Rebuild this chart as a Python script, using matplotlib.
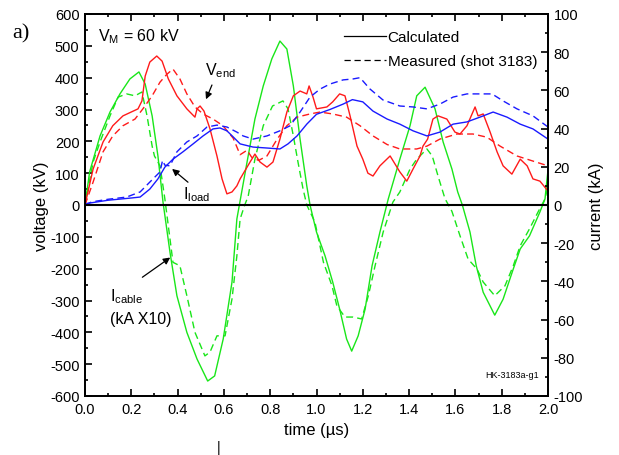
import matplotlib
matplotlib.use("Agg")
import matplotlib.pyplot as plt
from matplotlib.lines import Line2D
import numpy as np

plt.rcParams['font.family'] = ['Liberation Sans', 'DejaVu Sans']
plt.rcParams['axes.unicode_minus'] = False

# ---------------- data (voltage-scale units; currents shown x6 / x10) ----------------
t_cable_calc = [0, 0.02, 0.065, 0.108, 0.151, 0.194, 0.233, 0.26, 0.29, 0.315, 0.337, 0.367, 0.397,
                0.44, 0.484, 0.53, 0.56, 0.597, 0.635, 0.656, 0.70, 0.734, 0.77, 0.807, 0.842, 0.872,
                0.90, 0.929, 0.958, 0.972, 1.0, 1.037, 1.07, 1.10, 1.13, 1.152, 1.18, 1.21, 1.24,
                1.274, 1.31, 1.36, 1.404, 1.433, 1.469, 1.512, 1.547, 1.585, 1.61, 1.63, 1.663,
                1.69, 1.72, 1.77, 1.806, 1.85, 1.88, 1.92, 1.965, 1.987, 2.0]
v_cable_calc = [0, 104, 217, 292, 349, 396, 418, 380, 280, 154, 9, -148, -285,
                -400, -484, -553, -537, -421, -242, -44, 135, 270, 374, 459, 515, 490,
                374, 207, 60, 0, -85, -160, -242, -327, -421, -459, -411, -327, -191,
                -85, 19, 144, 249, 343, 370, 302, 198, 113, 41, 0, -85,
                -191, -274, -346, -296, -201, -138, -97, -22, 19, 110]

t_cable_meas = [0, 0.035, 0.065, 0.108, 0.143, 0.18, 0.216, 0.246, 0.268, 0.29, 0.30, 0.324, 0.345,
                0.38, 0.41, 0.44, 0.475, 0.518, 0.54, 0.57, 0.605, 0.635, 0.656, 0.67, 0.69, 0.705,
                0.734, 0.77, 0.81, 0.855, 0.877, 0.90, 0.92, 0.942, 0.958, 0.993, 1.03, 1.067, 1.088,
                1.123, 1.158, 1.195, 1.224, 1.253, 1.288, 1.33, 1.36, 1.404, 1.433, 1.477, 1.50,
                1.525, 1.555, 1.585, 1.62, 1.655, 1.693, 1.72, 1.77, 1.814, 1.85, 1.88, 1.92,
                1.957, 1.987, 2.0]
v_cable_meas = [0, 135, 198, 280, 339, 349, 343, 355, 280, 185, 154, 123, 19,
                -180, -191, -285, -400, -474, -462, -411, -411, -295, -160, -44, 0, 28,
                144, 249, 311, 327, 302, 217, 135, 50, 0, -53, -180, -254, -317,
                -352, -352, -358, -285, -191, -85, 9, 41, 113, 144, 176, 154,
                91, 20, -20, -97, -170, -201, -242, -285, -254, -191, -128, -75,
                -22, 19, 60]

t_vend_calc = [0, 0.035, 0.078, 0.12, 0.164, 0.229, 0.246, 0.26, 0.28, 0.31, 0.333, 0.36, 0.397,
               0.44, 0.475, 0.484, 0.497, 0.514, 0.54, 0.57, 0.592, 0.613, 0.635, 0.656, 0.67,
               0.713, 0.734, 0.756, 0.786, 0.812, 0.842, 0.872, 0.90, 0.929, 0.958, 0.968, 0.985,
               1.0, 1.045, 1.07, 1.10, 1.123, 1.145, 1.175, 1.20, 1.222, 1.244, 1.274, 1.318,
               1.36, 1.39, 1.417, 1.447, 1.46, 1.48, 1.503, 1.525, 1.563, 1.598, 1.62, 1.65,
               1.685, 1.698, 1.72, 1.75, 1.78, 1.806, 1.844, 1.88, 1.91, 1.935, 1.965, 2.0]
v_vend_calc = [0, 113, 198, 249, 280, 302, 327, 405, 449, 468, 452, 396, 343,
               302, 276, 302, 311, 295, 239, 154, 82, 35, 41, 60, 82,
               135, 160, 135, 119, 135, 207, 292, 343, 358, 349, 374, 339,
               302, 308, 324, 349, 343, 280, 185, 144, 100, 91, 123, 154,
               104, 75, 113, 154, 185, 207, 270, 280, 270, 229, 223, 249,
               308, 280, 286, 229, 167, 123, 97, 144, 123, 82, 75, 44]

t_vend_meas = [0, 0.035, 0.078, 0.12, 0.164, 0.216, 0.25, 0.29, 0.324, 0.354, 0.38, 0.41, 0.44,
               0.475, 0.51, 0.553, 0.596, 0.64, 0.67, 0.70, 0.72, 0.75, 0.786, 0.83, 0.872, 0.916,
               0.972, 1.015, 1.07, 1.13, 1.188, 1.244, 1.305, 1.36, 1.433, 1.477, 1.533, 1.606,
               1.676, 1.736, 1.793, 1.866, 1.935, 2.0]
v_vend_meas = [0, 72, 167, 217, 249, 270, 302, 343, 386, 411, 427, 396, 349,
               308, 286, 270, 249, 210, 158, 172, 150, 140, 154, 207, 249, 276,
               286, 292, 286, 276, 249, 217, 190, 176, 176, 185, 207, 223,
               223, 213, 185, 154, 138, 123]

t_load_calc = [0, 0.01, 0.1, 0.2, 0.238, 0.28, 0.315, 0.345, 0.38, 0.423, 0.467, 0.51, 0.553,
               0.583, 0.613, 0.64, 0.67, 0.726, 0.786, 0.842, 0.877, 0.916, 0.958, 1.0, 1.058,
               1.115, 1.155, 1.20, 1.244, 1.305, 1.36, 1.417, 1.477, 1.533, 1.59, 1.65, 1.706,
               1.763, 1.823, 1.88, 1.935, 2.0]
v_load_calc = [0, 5, 15, 22, 25, 50, 82, 119, 144, 167, 192, 217, 239,
               242, 233, 214, 192, 182, 179, 176, 192, 217, 254, 285, 300,
               317, 331, 324, 295, 270, 254, 233, 217, 229, 254, 261, 276,
               292, 276, 254, 239, 207]

t_load_meas = [0, 0.03, 0.1, 0.18, 0.238, 0.28, 0.324, 0.335, 0.345, 0.367, 0.397, 0.44, 0.484,
               0.527, 0.57, 0.613, 0.656, 0.683, 0.726, 0.786, 0.842, 0.886, 0.929, 0.972, 1.015,
               1.058, 1.115, 1.158, 1.188, 1.23, 1.287, 1.36, 1.417, 1.477, 1.533, 1.59, 1.65,
               1.706, 1.758, 1.806, 1.866, 1.935, 2.0]
v_load_meas = [0, 10, 18, 25, 41, 72, 104, 140, 125, 123, 167, 198, 217,
               245, 251, 245, 229, 217, 207, 217, 233, 249, 292, 339, 364,
               380, 393, 396, 400, 365, 330, 311, 308, 302, 317, 339, 349,
               349, 349, 327, 302, 280, 245]

RED = '#ff1a1a'
GREEN = '#19e619'
BLUE = '#1a1aff'
DASH = (0, (5, 3))

W, H = 619, 456
fig = plt.figure(figsize=(W / 100, H / 100), dpi=100)
ax = fig.add_axes([85 / W, 1 - 397 / H, (548 - 85) / W, (397 - 15) / H])

lw = 1.0
ax.plot(t_cable_calc, v_cable_calc, color=GREEN, lw=lw)
ax.plot(t_cable_meas, v_cable_meas, color=GREEN, lw=lw, linestyle=DASH)
ax.plot(t_vend_calc, v_vend_calc, color=RED, lw=lw)
ax.plot(t_vend_meas, v_vend_meas, color=RED, lw=lw, linestyle=DASH)
ax.plot(t_load_calc, v_load_calc, color=BLUE, lw=lw)
ax.plot(t_load_meas, v_load_meas, color=BLUE, lw=lw, linestyle=DASH)
ax.axhline(0, color='black', lw=1.5)

ax.set_xlim(0, 2.0)
ax.set_ylim(-600, 600)
ax.set_xticks(np.arange(0, 2.01, 0.2))
ax.set_xticks(np.arange(0, 2.01, 0.1), minor=True)
ax.set_yticks(np.arange(-600, 601, 100))
ax.set_yticks(np.arange(-600, 601, 50), minor=True)
ax.set_xticklabels(['%.1f' % v for v in np.arange(0, 2.01, 0.2)])
ax.tick_params(which='both', direction='in', top=True, right=False, labelsize=10.5, width=1.2)
ax.tick_params(which='major', length=5, pad=4)
ax.tick_params(which='minor', length=2.5)
for s in ax.spines.values():
    s.set_linewidth(1.3)

ax2 = ax.twinx()
ax2.set_ylim(-100, 100)
ax2.set_yticks(np.arange(-100, 101, 20))
ax2.set_yticks(np.arange(-100, 101, 10), minor=True)
ax2.tick_params(which='both', direction='in', labelsize=10.5, width=1.2)
ax2.tick_params(which='major', length=5, pad=4)
ax2.tick_params(which='minor', length=2.5)
for s in ax2.spines.values():
    s.set_linewidth(1.3)

ax.set_xlabel('time (µs)', fontsize=12, labelpad=5)
ax.set_ylabel('voltage (kV)', fontsize=12, labelpad=1)
ax2.set_ylabel('current (kA)', fontsize=12, labelpad=4)

# annotations
ax.text(0.056, 516, 'V$_\\mathregular{M}$ = 60 kV', fontsize=11.5, va='baseline')
ax.annotate('', xy=(0.518, 324), xytext=(0.553, 385),
            arrowprops=dict(arrowstyle='-|>', color='black', lw=0.9, mutation_scale=10))
ax.text(0.518, 410, 'V$_\\mathregular{end}$', fontsize=11.5, va='baseline')
ax.annotate('', xy=(0.367, 119), xytext=(0.454, 66),
            arrowprops=dict(arrowstyle='-|>', color='black', lw=0.9, mutation_scale=10))
ax.text(0.425, 20, 'I$_\\mathregular{load}$', fontsize=11.5, va='baseline')
ax.annotate('', xy=(0.378, -160), xytext=(0.238, -232),
            arrowprops=dict(arrowstyle='-|>', color='black', lw=0.9, mutation_scale=10))
ax.text(0.108, -300, 'I$_\\mathregular{cable}$', fontsize=11.5, va='baseline')
ax.text(0.108, -370, '(kA X10)', fontsize=11.5, va='baseline')
ax.text(1.96, -540, 'HK-3183a-g1', fontsize=6.5, ha='right', va='baseline')

handles = [Line2D([], [], color='black', lw=0.9),
           Line2D([], [], color='black', lw=0.9, linestyle=DASH)]
leg = ax.legend(handles, ['Calculated', 'Measured (shot 3183)'], loc='upper left',
                bbox_to_anchor=(344 / W, 1 - 31 / H), bbox_transform=fig.transFigure,
                frameon=False, fontsize=11, handlelength=2.75, handletextpad=0.1,
                labelspacing=0.68, borderpad=0, borderaxespad=0)

fig.text(12 / W, 1 - 38 / H, 'a)', fontsize=16, family='Liberation Serif')
fig.text(219 / W, 1 - 452 / H, '|', fontsize=10, ha='center')

fig.savefig('out.png', dpi=100)
